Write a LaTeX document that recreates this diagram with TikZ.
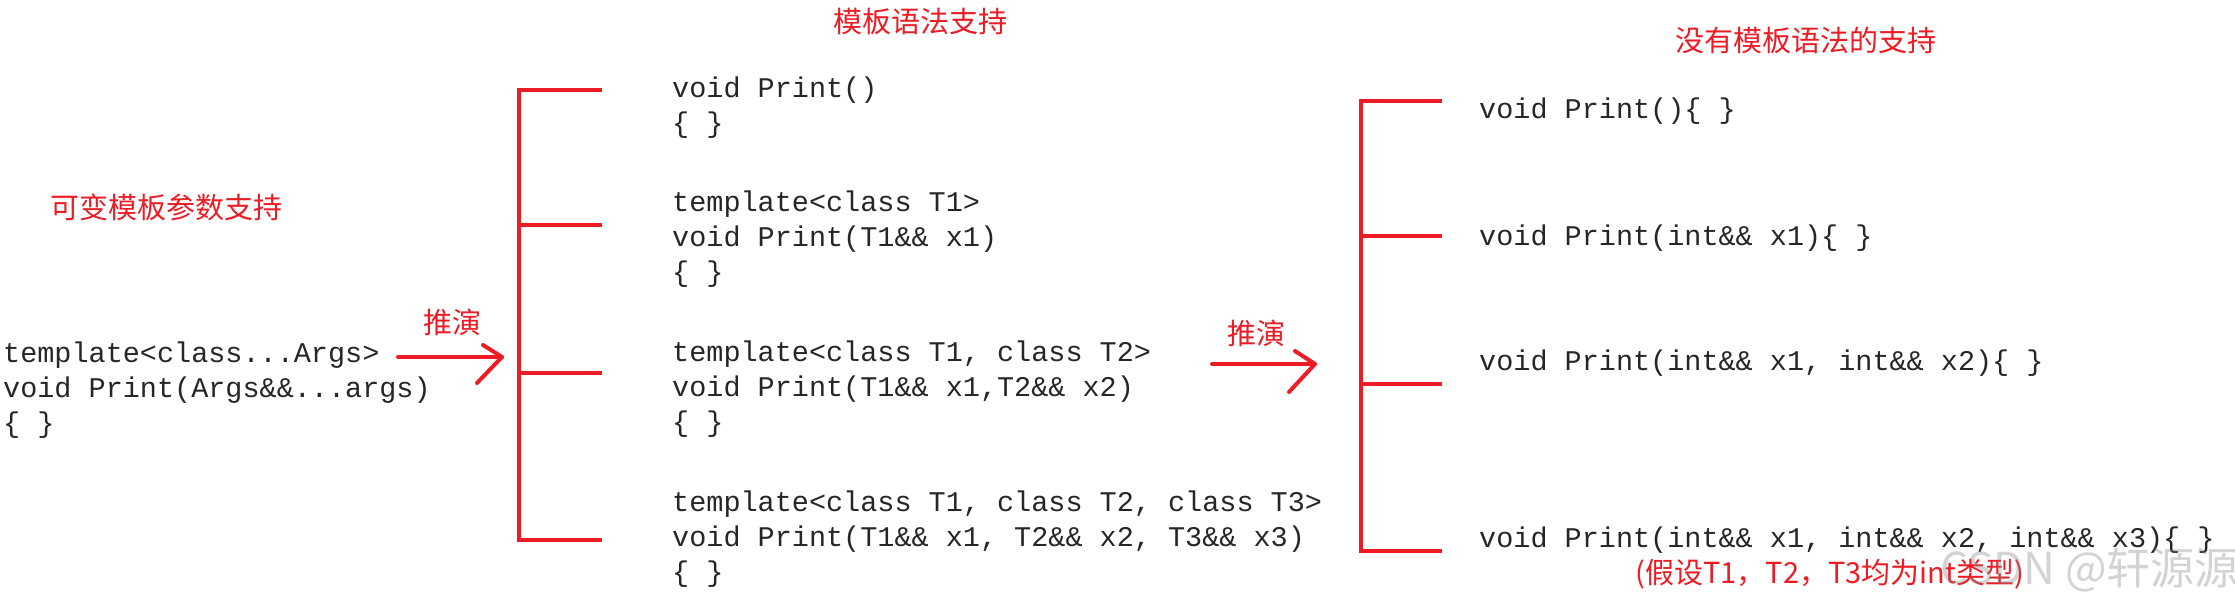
\documentclass[tikz,border=0pt]{standalone}
\usepackage{fontspec}
\newfontfamily\cjk{Noto Sans CJK SC}
\newfontfamily\codefont{Liberation Mono}
\definecolor{annred}{RGB}{237,28,36}
\begin{document}
\begin{tikzpicture}[x=1pt,y=-1pt,
  code/.style={font=\codefont\fontsize{28.5}{35}\selectfont, anchor=base west, align=left, inner sep=0pt, text=black!85},
  cnlabel/.style={font=\cjk\fontsize{29}{34}\selectfont, text=annred, inner sep=0pt},
  brk/.style={draw=annred, line width=4pt},
  arr/.style={draw=annred, line width=4pt, line cap=round, line join=round}]
\useasboundingbox (0,0) rectangle (2235,602);

% titles
\node[cnlabel] (t1) at (166,207) {可变模板参数支持};
\node[cnlabel] (t2) at (920,22) {模板语法支持};
\node[cnlabel] (t3) at (1806,40) {没有模板语法的支持};
\node[cnlabel] (d1) at (452,322) {推演};
\node[cnlabel] (d2) at (1256,333) {推演};

% left code (anchor = baseline of last line)
\node[code] (src) at (3,432) {template<class...Args>\\void Print(Args\&\&...args)\\\{ \}};

% middle code
\node[code] (m1) at (672,132) {void Print()\\\{ \}};
\node[code] (m2) at (672,281) {template<class T1>\\void Print(T1\&\& x1)\\\{ \}};
\node[code] (m3) at (672,431) {template<class T1, class T2>\\void Print(T1\&\& x1,T2\&\& x2)\\\{ \}};
\node[code] (m4) at (672,581) {template<class T1, class T2, class T3>\\void Print(T1\&\& x1, T2\&\& x2, T3\&\& x3)\\\{ \}};

% right code
\node[code] (r1) at (1479,118) {void Print()\{ \}};
\node[code] (r2) at (1479,245) {void Print(int\&\& x1)\{ \}};
\node[code] (r3) at (1479,370) {void Print(int\&\& x1, int\&\& x2)\{ \}};
\node[code] (r4) at (1479,547) {void Print(int\&\& x1, int\&\& x2, int\&\& x3)\{ \}};

\node[cnlabel] (note) at (1830,574) {(假设T1，T2，T3均为int类型)};

% left bracket
\coordinate (lb1) at (519,90);
\coordinate (lb4) at (519,540);
\draw[brk] (602,90) -- (lb1) -- (lb4) -- (602,540);
\draw[brk] (519,225) -- (602,225);
\draw[brk] (519,373) -- (602,373);

% right bracket
\coordinate (rb1) at (1361,101);
\coordinate (rb4) at (1361,551);
\draw[brk] (1442,101) -- (rb1) -- (rb4) -- (1442,551);
\draw[brk] (1361,236) -- (1442,236);
\draw[brk] (1361,384) -- (1442,384);

% arrows
\coordinate (a1s) at (398,357);
\coordinate (a1t) at (502,357);
\draw[arr] (a1s) -- (a1t);
\draw[arr] (483,345) -- (a1t) -- (477,383);
\coordinate (a2s) at (1212,364);
\coordinate (a2t) at (1315,364);
\draw[arr] (a2s) -- (a2t);
\draw[arr] (1295,351) -- (a2t) -- (1289,392);

% watermark
\node[font=\cjk\fontsize{44}{50}\selectfont, text=gray, opacity=0.35, anchor=base west, inner sep=0pt] (wm) at (1940,584) {CSDN @轩源源};
\end{tikzpicture}
\end{document}
